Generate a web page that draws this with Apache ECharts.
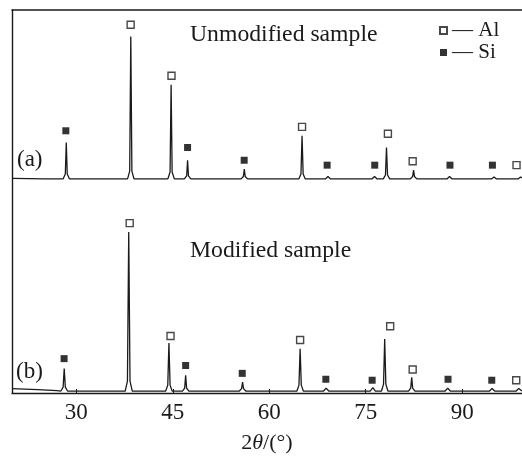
<!DOCTYPE html>
<html>
<head>
<meta charset="utf-8">
<script src="https://cdn.jsdelivr.net/npm/echarts@6/dist/echarts.min.js"></script>
<style>html,body{margin:0;padding:0;background:#fff;}#c{width:522px;height:459px;}</style>
</head>
<body>
<div id="c"></div>
<script>
// 2θ tick labels
const xTicks = [30, 45, 60, 75, 90];

// Pattern (a) Unmodified sample: [2θ, intensity (offset)]
const patternA = [
  [20,218.5],[25,218],
  [27.94,218],[28.29,223],[28.44,255],[28.59,223],[28.94,218],
  [37.97,218],[38.3,226],[38.47,363],[38.64,226],[38.97,218],
  [44.24,218],[44.58,225],[44.74,314],[44.9,225],[45.24,218],
  [46.8,218],[47.16,221],[47.3,237],[47.44,221],[47.8,218],
  [55.62,218],[55.98,220.5],[56.12,228],[56.26,220.5],[56.62,218],
  [64.6,218],[64.93,223],[65.1,262],[65.27,223],[65.6,218],
  [68.73,218],[69.13,220.5],[69.53,218],
  [75.97,218],[76.37,220.5],[76.77,218],
  [77.73,218],[78.07,222],[78.23,250],[78.39,222],[78.73,218],
  [81.94,218],[82.3,220.5],[82.44,227],[82.58,220.5],[82.94,218],
  [87.63,218],[88.03,220.5],[88.43,218],
  [94.55,218],[94.95,220],[95.35,218],
  [98.68,218],[99.08,220],[99.3,219]
];

// Pattern (b) Modified sample
const patternB = [
  [20,4.5],[24,3.5],[27,2.5],
  [27.6,2],[27.95,6],[28.12,25],[28.29,6],[28.64,2],
  [37.6,2],[37.95,12],[38.15,164],[38.35,12],[38.7,2],
  [43.9,2],[44.22,8],[44.4,51],[44.58,8],[44.9,2],
  [46.5,2],[46.85,5],[47.0,18],[47.15,5],[47.5,2],
  [55.35,2],[55.7,4.5],[55.85,11],[56.0,4.5],[56.35,2],
  [64.3,2],[64.62,8],[64.8,45],[64.98,8],[65.3,2],
  [68.45,2],[68.85,5],[69.25,2],
  [75.7,2],[76.1,5.5],[76.5,2],
  [77.45,2],[77.77,9],[77.95,55],[78.13,9],[78.45,2],
  [81.65,2],[82.0,5],[82.15,16],[82.3,5],[82.65,2],
  [87.35,2],[87.75,5],[88.15,2],
  [94.25,2],[94.65,4.5],[95.05,2],
  [98.4,2],[98.8,4.5],[99.3,2]
];

// Phase markers
const alMarkersA = [[38.45,375],[44.8,323],[65.1,271],[78.45,264],[82.3,236],[98.45,232]];
const siMarkersA = [[28.37,267],[47.3,250],[56.1,237],[69.0,232],[76.4,232],[88.1,232],[94.7,232]];
const alMarkersB = [[38.3,173],[44.65,58],[64.8,54],[78.8,68],[82.3,24],[98.4,13]];
const siMarkersB = [[28.1,35],[47.0,28],[55.8,20],[68.8,14],[76.0,13],[87.8,14],[94.6,13]];

const FONT = '"Liberation Serif", "Times New Roman", serif';
const INK = '#1a1a1a';

const chart = echarts.init(document.getElementById('c'), null, {renderer: 'canvas'});
chart.setOption({
  animation: false,
  backgroundColor: '#fff',
  grid: {left: 12, right: 0, top: 10, bottom: 59},
  xAxis: [{
    type: 'value', min: 20, max: 99.3,
    axisLine: {show: true, lineStyle: {color: INK, width: 1.4}},
    axisTick: {show: true, inside: true, length: 4, customValues: xTicks, lineStyle: {color: INK}},
    axisLabel: {customValues: xTicks, fontSize: 23, fontFamily: FONT, color: INK, margin: 8},
    splitLine: {show: false},
    name: '{n|2}{i|θ}{n|/(°)}',
    nameLocation: 'middle', nameGap: 39,
    nameTextStyle: {
      rich: {
        n: {fontSize: 22, fontFamily: FONT, color: INK},
        i: {fontSize: 22, fontFamily: FONT, fontStyle: 'italic', color: INK}
      }
    }
  }, {
    type: 'value', min: 20, max: 99.3, position: 'top',
    axisLine: {show: true, lineStyle: {color: INK, width: 1.6}},
    axisTick: {show: false}, axisLabel: {show: false}, splitLine: {show: false}
  }],
  yAxis: {
    type: 'value', min: 0, max: 390,
    axisLine: {show: true, lineStyle: {color: INK, width: 1.4}},
    axisTick: {show: false}, axisLabel: {show: false}, splitLine: {show: false}
  },
  legend: {
    data: ['Al', 'Si'], orient: 'vertical', left: 434, top: 15,
    itemWidth: 7, itemHeight: 7, itemGap: 1,
    formatter: '— {name}',
    textStyle: {fontSize: 21, fontFamily: FONT, color: INK}
  },
  series: [
    {name: 'a', type: 'line', data: patternA, showSymbol: false, symbol: 'none',
     lineStyle: {color: INK, width: 1.3}, z: 2},
    {name: 'b', type: 'line', data: patternB, showSymbol: false, symbol: 'none',
     lineStyle: {color: INK, width: 1.3}, z: 2},
    {name: 'Al', type: 'scatter', data: alMarkersA.concat(alMarkersB), symbol: 'rect', symbolSize: 7,
     itemStyle: {color: '#fff', borderColor: INK, borderWidth: 1.4}, z: 3},
    {name: 'Si', type: 'scatter', data: siMarkersA.concat(siMarkersB), symbol: 'rect', symbolSize: 7,
     itemStyle: {color: '#000'}, z: 3}
  ],
  graphic: [
    {type: 'text', left: 190, top: 23, style: {text: 'Unmodified sample', font: '23.7px ' + FONT, fill: INK}},
    {type: 'text', left: 190, top: 239, style: {text: 'Modified sample', font: '23.7px ' + FONT, fill: INK}},
    {type: 'text', left: 17, top: 148, style: {text: '(a)', font: '23px ' + FONT, fill: INK}},
    {type: 'text', left: 16, top: 360, style: {text: '(b)', font: '23px ' + FONT, fill: INK}}
  ]
});
</script>
</body>
</html>
